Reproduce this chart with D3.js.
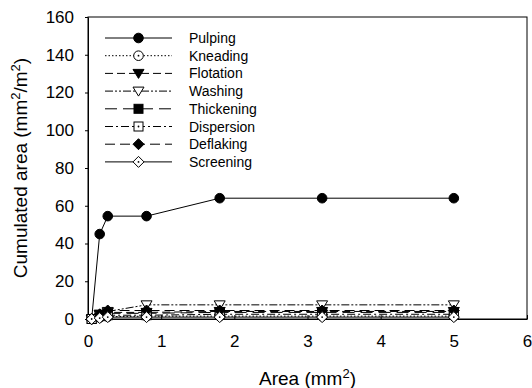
<!DOCTYPE html>
<html>
<head>
<meta charset="utf-8">
<script src="https://cdn.jsdelivr.net/npm/d3@7"></script>
<style>
  html, body { margin: 0; padding: 0; background: #fff; }
  svg { display: block; font-family: "Liberation Sans", Arial, sans-serif; }
</style>
</head>
<body>
<svg id="chart" width="532" height="388"></svg>
<script>
// ---- data ----
const xValues = [0.05, 0.16, 0.27, 0.8, 1.8, 3.2, 5];
const seriesNames = ["Pulping", "Kneading", "Flotation", "Washing", "Thickening", "Dispersion", "Deflaking", "Screening"];
const pulping    = [0, 45, 54.5, 54.5, 64, 64, 64];
const kneading   = [0, 0.8, 1.2, 1.5, 1.5, 1.5, 1.5];
const flotation  = [0, 2.5, 3.5, 3.5, 4, 4, 4];
const washing    = [0, 2.5, 4, 7.5, 7.5, 7.5, 7.5];
const thickening = [0, 2, 3, 3, 3.5, 3.5, 3.5];
const dispersion = [0, 1.5, 2, 2, 2.5, 2.5, 2.5];
const deflaking  = [0, 2.5, 4.5, 4.5, 4.5, 4.5, 4.5];
const screening  = [0, 0.5, 1, 1, 1, 1, 1];
const xTicks = [0, 1, 2, 3, 4, 5, 6];
const yTicks = [0, 20, 40, 60, 80, 100, 120, 140, 160];

const seriesValues = [pulping, kneading, flotation, washing, thickening, dispersion, deflaking, screening];

// ---- styles ----
const styles = [
  { dash: null,              shape: "circle",   fill: "#000" },
  { dash: "1.5,2",           shape: "circle",   fill: "#fff", dot: true },
  { dash: "8,4",             shape: "triDown",  fill: "#000" },
  { dash: "8,2,2,2,2,2",     shape: "triDown",  fill: "#fff" },
  { dash: "12,6",            shape: "square",   fill: "#000" },
  { dash: "8,3,2,3",         shape: "square",   fill: "#fff", dot: true },
  { dash: "10,5",            shape: "diamond",  fill: "#000" },
  { dash: null,              shape: "diamond",  fill: "#fff", dot: true }
];

const svg = d3.select("#chart");
const m = { left: 88, right: 527, top: 17, bottom: 319 };

const x = d3.scaleLinear().domain([0, 6]).range([m.left, m.right]);
const y = d3.scaleLinear().domain([0, 160]).range([m.bottom, m.top]);

// frame
svg.append("rect")
  .attr("x", m.left).attr("y", m.top)
  .attr("width", m.right - m.left).attr("height", m.bottom - m.top)
  .attr("fill", "none").attr("stroke", "#000").attr("stroke-width", 1);

// axes
const xAxis = svg.append("g")
  .attr("transform", `translate(0,${m.bottom})`)
  .call(d3.axisBottom(x).tickValues(xTicks).tickFormat(d3.format("d"))
        .tickSizeInner(-4).tickSizeOuter(0).tickPadding(16));
const yAxis = svg.append("g")
  .attr("transform", `translate(${m.left},0)`)
  .call(d3.axisLeft(y).tickValues(yTicks).tickFormat(d3.format("d"))
        .tickSizeInner(3).tickSizeOuter(0).tickPadding(11));
[xAxis, yAxis].forEach(g => {
  g.select(".domain").attr("stroke", "#000");
  g.selectAll(".tick line").attr("stroke", "#000");
  g.selectAll(".tick text").attr("font-size", 17).attr("fill", "#000")
    .attr("font-family", "'Liberation Sans', Arial, sans-serif");
});

// axis labels
const xl = svg.append("text")
  .attr("x", (m.left + m.right) / 2).attr("y", 385)
  .attr("text-anchor", "middle").attr("font-size", 19);
xl.append("tspan").text("Area (mm");
xl.append("tspan").attr("font-size", 13).attr("dy", -7).text("2");
xl.append("tspan").attr("dy", 7).text(")");

const yl = svg.append("text")
  .attr("transform", `translate(27,${(m.top + m.bottom) / 2}) rotate(-90)`)
  .attr("text-anchor", "middle").attr("font-size", 19);
yl.append("tspan").text("Cumulated area (mm");
yl.append("tspan").attr("font-size", 13).attr("dy", -7).text("2");
yl.append("tspan").attr("dy", 7).text("/m");
yl.append("tspan").attr("font-size", 13).attr("dy", -7).text("2");
yl.append("tspan").attr("dy", 7).text(")");

// marker drawing
function drawMarker(g, cx, cy, st) {
  let el;
  if (st.shape === "circle") {
    el = g.append("circle").attr("cx", cx).attr("cy", cy).attr("r", 4.8);
  } else if (st.shape === "square") {
    el = g.append("rect").attr("x", cx - 4.5).attr("y", cy - 4.5).attr("width", 9).attr("height", 9);
  } else if (st.shape === "triDown") {
    el = g.append("path").attr("d", `M${cx - 5.5},${cy - 4}L${cx + 5.5},${cy - 4}L${cx},${cy + 5}Z`);
  } else {
    el = g.append("path").attr("d", `M${cx},${cy - 5.5}L${cx + 5.5},${cy}L${cx},${cy + 5.5}L${cx - 5.5},${cy}Z`);
  }
  el.attr("fill", st.fill).attr("stroke", "#000").attr("stroke-width", 1);
  if (st.dot) {
    g.append("circle").attr("cx", cx).attr("cy", cy).attr("r", 0.9).attr("fill", "#000");
  }
}

// series
const line = d3.line().x(d => x(d[0])).y(d => y(d[1]));
seriesValues.forEach((vals, i) => {
  const st = styles[i];
  const pts = xValues.map((xv, j) => [xv, vals[j]]);
  const g = svg.append("g");
  g.append("path").attr("d", line(pts))
    .attr("fill", "none").attr("stroke", "#000").attr("stroke-width", 1)
    .attr("stroke-dasharray", st.dash);
  pts.forEach(p => drawMarker(g, x(p[0]), y(p[1]), st));
});

// legend
const lg = svg.append("g");
seriesNames.forEach((name, i) => {
  const st = styles[i];
  const ly = 38 + i * 17.7;
  lg.append("line").attr("x1", 105).attr("x2", 172).attr("y1", ly).attr("y2", ly)
    .attr("stroke", "#000").attr("stroke-width", 1).attr("stroke-dasharray", st.dash);
  drawMarker(lg, 138.5, ly, st);
  lg.append("text").attr("x", 189).attr("y", ly + 5)
    .attr("font-size", 14).attr("fill", "#000").text(name);
});
</script>
</body>
</html>
